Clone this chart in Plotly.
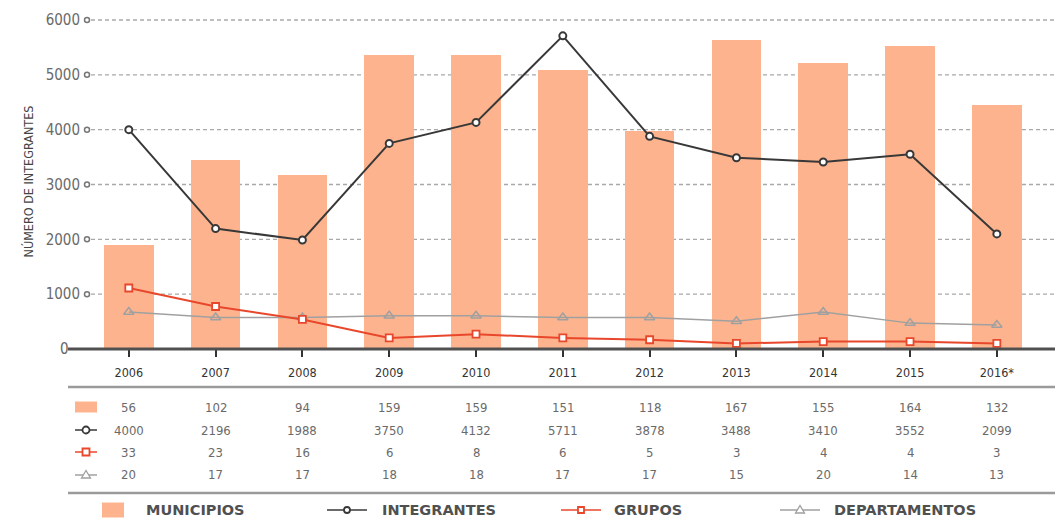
import plotly.graph_objects as go

years = ["2006", "2007", "2008", "2009", "2010", "2011", "2012", "2013", "2014", "2015", "2016*"]
municipios = [56, 102, 94, 159, 159, 151, 118, 167, 155, 164, 132]
integrantes = [4000, 2196, 1988, 3750, 4132, 5711, 3878, 3488, 3410, 3552, 2099]
grupos = [33, 23, 16, 6, 8, 6, 5, 3, 4, 4, 3]
departamentos = [20, 17, 17, 18, 18, 17, 17, 15, 20, 14, 13]
y_ticks = [0, 1000, 2000, 3000, 4000, 5000, 6000]
series_names = ["MUNICIPIOS", "INTEGRANTES", "GRUPOS", "DEPARTAMENTOS"]

C_BAR = "#FDB48E"
C_INT = "#383838"
C_GRU = "#E8472B"
C_DEP = "#A0A0A0"
FONT = "Liberation Sans Narrow, DejaVu Sans Condensed, Roboto, sans-serif"

W, H = 1059, 525
L, R, T, B = 88, 4, 20, 176
PW, PH = W - L - R, H - T - B
Y_MAX = 6000
Y2_MAX = 178


def px(x):
    return (x - L) / PW


def py(y):
    return (H - B - y) / PH


fig = go.Figure()
# bars + small-count series on the hidden primary axis (drawn first / underneath)
fig.add_trace(go.Bar(x=years, y=municipios, yaxis="y", width=0.57,
                     marker=dict(color=C_BAR, line=dict(width=0)), name=series_names[0]))
fig.add_trace(go.Scatter(x=years, y=departamentos, yaxis="y", mode="lines+markers",
                         line=dict(color=C_DEP, width=1.5),
                         marker=dict(symbol="triangle-up-open", size=9, color=C_DEP,
                                     line=dict(width=1.5)), name=series_names[3]))
fig.add_trace(go.Scatter(x=years, y=grupos, yaxis="y", mode="lines+markers",
                         line=dict(color=C_GRU, width=2),
                         marker=dict(symbol="square", size=7, color="white",
                                     line=dict(color=C_GRU, width=1.8)), name=series_names[2]))
# integrantes on the visible overlaying axis
fig.add_trace(go.Scatter(x=years, y=integrantes, yaxis="y2", mode="lines+markers",
                         line=dict(color=C_INT, width=2),
                         marker=dict(symbol="circle", size=7, color="white",
                                     line=dict(color=C_INT, width=2)), name=series_names[1]))

shapes = []
annotations = []

# gridlines (dashed) drawn below traces
for v in y_ticks[1:]:
    shapes.append(dict(type="line", xref="paper", yref="paper", x0=px(91), x1=1,
                       y0=v / Y_MAX, y1=v / Y_MAX, layer="below",
                       line=dict(color="#a9a9a9", width=1.3, dash="4px,3px")))
    shapes.append(dict(type="circle", xref="paper", yref="paper", xsizemode="pixel", ysizemode="pixel",
                       xanchor=px(87), yanchor=v / Y_MAX, x0=-2.5, x1=2.5, y0=-2.5, y1=2.5,
                       line=dict(color="#777777", width=1.5), fillcolor="white"))
# zero axis line extending left
shapes.append(dict(type="line", xref="paper", yref="paper", x0=px(68), x1=1, y0=0, y1=0,
                   line=dict(color="#505050", width=3), layer="above"))
annotations.append(dict(text="0", xref="paper", yref="paper", x=px(58), y=0, showarrow=False,
                        yanchor="middle", font=dict(family=FONT, size=15, color="#666666")))

# y title
annotations.append(dict(text="NÚMERO DE INTEGRANTES", xref="paper", yref="paper", x=px(18), y=py(182),
                        textangle=-90, showarrow=False, font=dict(family=FONT, size=12.5, color="#444444")))

# table lines
for yy in (387, 493):
    shapes.append(dict(type="line", xref="paper", yref="paper", x0=px(68), x1=px(1055),
                       y0=py(yy), y1=py(yy), line=dict(color="#9a9a9a", width=2.5)))

rows = [municipios, integrantes, grupos, departamentos]
row_y = [407, 430, 452, 475]
for vals, ry in zip(rows, row_y):
    for i, v in enumerate(vals):
        annotations.append(dict(text=str(v), xref="x", yref="paper", x=i, y=py(ry), showarrow=False,
                                yanchor="middle",
                                font=dict(family=FONT, size=13, color="#6a6a6a")))


def symbol(kind, cx, cy, big=False):
    half = 20 if big else 11
    r = 3 if big else 3.5
    s = []
    if kind == 0:
        hw, hh = (11, 7.5) if big else (11, 5.5)
        s.append(dict(type="rect", xref="paper", yref="paper", xsizemode="pixel", ysizemode="pixel",
                      xanchor=px(cx), yanchor=py(cy), x0=-hw, x1=hw, y0=-hh, y1=hh,
                      fillcolor=C_BAR, line=dict(width=0)))
        return s
    col = [None, C_INT, C_GRU, C_DEP][kind]
    s.append(dict(type="line", xref="paper", yref="paper", xsizemode="pixel", ysizemode="pixel",
                  xanchor=px(cx), yanchor=py(cy), x0=-half, x1=half, y0=0, y1=0,
                  line=dict(color=col, width=1.5)))
    if kind == 1:
        s.append(dict(type="circle", xref="paper", yref="paper", xsizemode="pixel", ysizemode="pixel",
                      xanchor=px(cx), yanchor=py(cy), x0=-r, x1=r, y0=-r, y1=r,
                      fillcolor="white", line=dict(color=col, width=1.8)))
    elif kind == 2:
        s.append(dict(type="rect", xref="paper", yref="paper", xsizemode="pixel", ysizemode="pixel",
                      xanchor=px(cx), yanchor=py(cy), x0=-r, x1=r, y0=-r, y1=r,
                      fillcolor="white", line=dict(color=col, width=1.8)))
    else:
        s.append(dict(type="path", xref="paper", yref="paper", xsizemode="pixel", ysizemode="pixel",
                      xanchor=px(cx), yanchor=py(cy), path="M -4.5,-3 L 4.5,-3 L 0,4.5 Z",
                      fillcolor="white", line=dict(color=col, width=1.3)))
    return s


for k, ry in enumerate(row_y):
    shapes += symbol(k, 86, ry)

legend_sym_x = [113, 347, 581, 800]
legend_txt_x = [144, 380, 612, 832]
for k, name in enumerate(series_names):
    shapes += symbol(k, legend_sym_x[k], 510, big=True)
    annotations.append(dict(text="<b>" + name + "</b>", xref="paper", yref="paper", x=px(legend_txt_x[k]),
                            y=py(510), xanchor="left", yanchor="middle", showarrow=False,
                            font=dict(family="DejaVu Sans, Verdana, sans-serif", size=14.5, color="#505050")))

fig.update_layout(
    width=W, height=H,
    margin=dict(l=L, r=R, t=T, b=B),
    paper_bgcolor="white", plot_bgcolor="white",
    showlegend=False,
    bargap=0,
    xaxis=dict(type="category", range=[-0.47, 10.67], showgrid=False, showline=False, zeroline=False,
               ticks="outside", ticklen=7, tickwidth=2, tickcolor="#333333", ticklabelstandoff=5,
               tickfont=dict(family=FONT, size=12.5, color="#333333")),
    yaxis=dict(range=[0, Y2_MAX], visible=False, showgrid=False, zeroline=False),
    yaxis2=dict(range=[0, Y_MAX], overlaying="y", side="left", tickvals=y_ticks,
                ticktext=[""] + [str(v) for v in y_ticks[1:]],
                showgrid=False, zeroline=False, showline=False, ticks="", ticklabelstandoff=7,
                tickfont=dict(family=FONT, size=15, color="#6a6a6a")),
    shapes=shapes,
    annotations=annotations,
)

fig.write_html("out.html", config={"displayModeBar": False},
               post_script="document.body.style.margin='0';document.body.style.overflow='hidden';")
